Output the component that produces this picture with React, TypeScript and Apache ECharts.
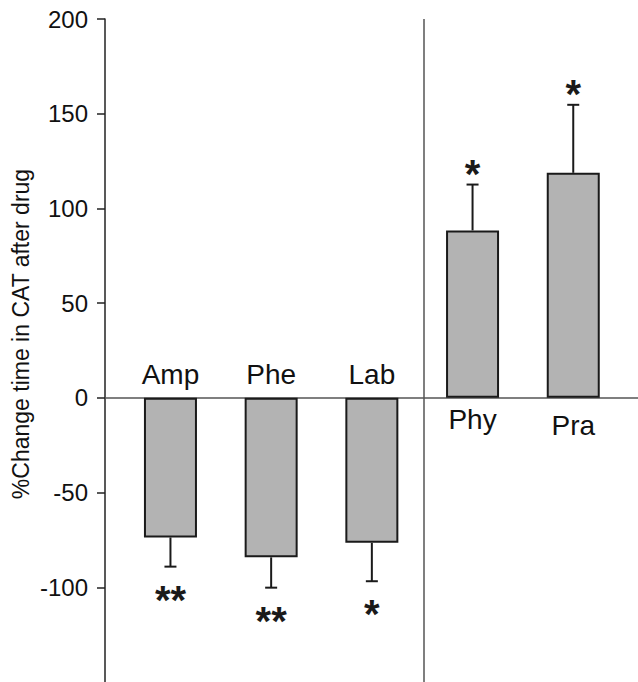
import React, { useEffect, useRef } from "react";
import * as echarts from "echarts";

const categories = ["Amp", "Phe", "Lab", "Phy", "Pra"];
const meanChange = [-73.7, -84.2, -76.5, 88.4, 118.8];
const semChange = [15.4, 16.0, 20.3, 24.2, 35.9];
const significance = ["**", "**", "*", "*", "*"];
const yTickValues = [-100, -50, 0, 50, 100, 150, 200];
const yAxisTitle = "%Change time in CAT after drug";

const FONT = "'Liberation Sans', Arial, Helvetica, sans-serif";
// per-category vertical nudge of the category names (px)
const labelNudge = [0, 0, 0, 0, 6];

export default function App() {
  const ref = useRef<HTMLDivElement>(null);
  useEffect(() => {
    if (!ref.current) return;
    const chart = echarts.init(ref.current, undefined, { renderer: "svg" });
    const option: any = {
      animation: false,
      backgroundColor: "#ffffff",
      grid: { left: 105, right: 0, top: 19, height: 667 },
      xAxis: {
        type: "value",
        min: -0.65,
        max: 4.643,
        axisLine: { show: true, onZero: true, lineStyle: { color: "#555", width: 1.5 } },
        axisTick: { show: false },
        axisLabel: { show: false },
        splitLine: { show: false },
      },
      yAxis: {
        type: "value",
        min: -150,
        max: 200,
        interval: 50,
        axisLine: { show: true, onZero: false, lineStyle: { color: "#222", width: 1.5 } },
        axisTick: {
          show: true,
          length: 8,
          customValues: yTickValues,
          lineStyle: { color: "#222", width: 1.5 },
        },
        axisLabel: {
          fontSize: 24,
          fontFamily: FONT,
          color: "#111",
          margin: 17,
          customValues: yTickValues,
          formatter: (v: number) => (yTickValues.indexOf(v) >= 0 ? String(v) : ""),
        },
        splitLine: { show: false },
      },
      graphic: [
        {
          type: "text",
          x: 21,
          y: 334,
          rotation: Math.PI / 2,
          style: {
            text: yAxisTitle,
            fontSize: 23,
            fontFamily: FONT,
            fill: "#111",
            align: "center",
            verticalAlign: "middle",
          },
        },
      ],
      series: [
        {
          type: "bar",
          data: meanChange.map((m, i) => [i, m]),
          barWidth: 53,
          itemStyle: { color: "#b3b3b3", borderColor: "#1a1a1a", borderWidth: 2 },
          markLine: {
            silent: true,
            symbol: "none",
            label: { show: false },
            lineStyle: { color: "#555", width: 1.5, type: "solid" },
            data: [{ xAxis: 2.52 }],
          },
        },
        {
          type: "custom",
          data: meanChange.map((m, i) => [i, m, semChange[i]]),
          z: 5,
          clip: false,
          renderItem: (params: any, api: any) => {
            const x = api.value(0);
            const m = api.value(1);
            const e = api.value(2);
            const sign = m < 0 ? -1 : 1;
            const end = m + sign * e;
            const p0 = api.coord([x, m]);
            const p1 = api.coord([x, end]);
            const i = params.dataIndex;
            const starY = sign < 0 ? p1[1] + 33 : p1[1] - 11;
            const zero = api.coord([x, 0]);
            const labelY = (sign < 0 ? zero[1] - 23 : zero[1] + 22) + labelNudge[i];
            return {
              type: "group",
              children: [
                {
                  type: "line",
                  shape: { x1: p0[0], y1: p0[1], x2: p1[0], y2: p1[1] },
                  style: { stroke: "#1a1a1a", lineWidth: 2 },
                },
                {
                  type: "line",
                  shape: { x1: p1[0] - 6, y1: p1[1], x2: p1[0] + 6, y2: p1[1] },
                  style: { stroke: "#1a1a1a", lineWidth: 2 },
                },
                {
                  type: "text",
                  x: p1[0],
                  y: starY,
                  style: {
                    text: significance[i],
                    fontSize: 40,
                    fontWeight: "bold",
                    fontFamily: FONT,
                    fill: "#1a1a1a",
                    align: "center",
                    verticalAlign: "middle",
                  },
                },
                {
                  type: "text",
                  x: zero[0],
                  y: labelY,
                  style: {
                    text: categories[i],
                    fontSize: 28,
                    fontFamily: FONT,
                    fill: "#111",
                    align: "center",
                    verticalAlign: "middle",
                  },
                },
              ],
            };
          },
        },
      ],
    };
    chart.setOption(option);
    return () => chart.dispose();
  }, []);
  return (
    <div
      ref={ref}
      style={{ position: "fixed", left: 0, top: 0, width: 638, height: 682, background: "#fff" }}
    />
  );
}
